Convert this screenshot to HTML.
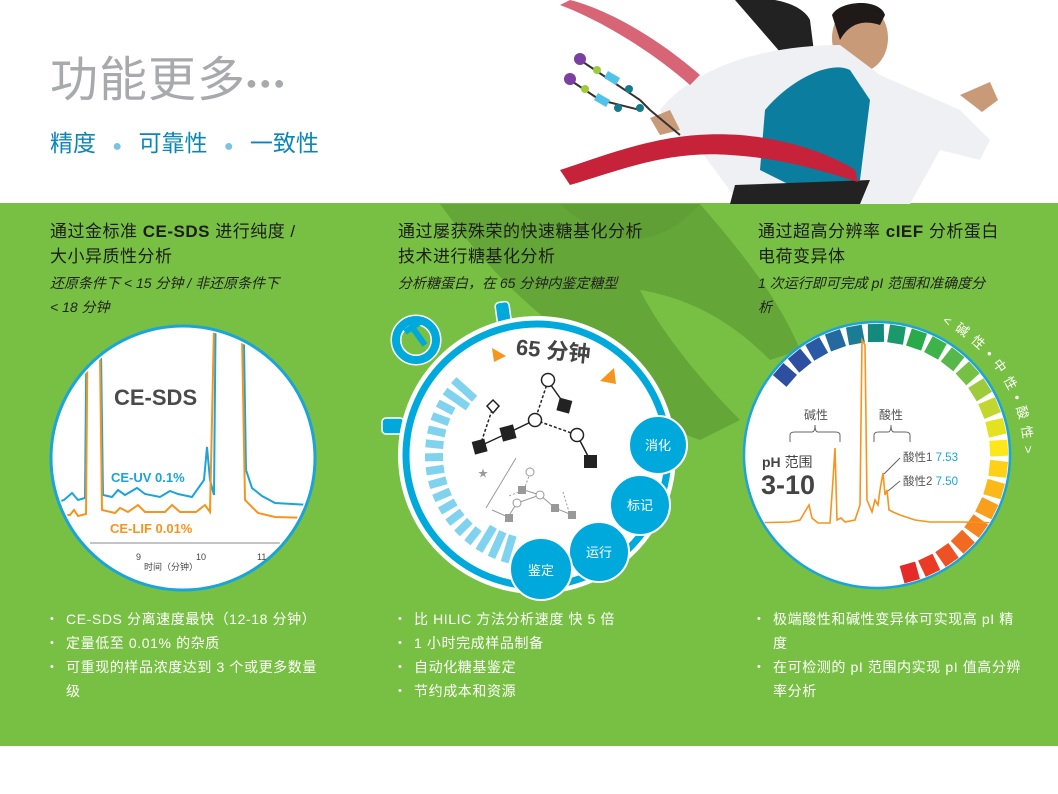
<!DOCTYPE html>
<html><head><meta charset="utf-8">
<style>
*{margin:0;padding:0;box-sizing:border-box}
body{width:1058px;height:794px;background:#fff;position:relative;overflow:hidden;font-family:"Liberation Sans","Noto Sans CJK SC",sans-serif}
.abs{position:absolute;white-space:nowrap}
.green{position:absolute;left:0;top:203px;width:1058px;height:543px;background:#78c043}
h2{position:absolute;font-size:17px;font-weight:normal;color:#1d1d1b;line-height:25px;letter-spacing:0.5px}
.sub{position:absolute;font-size:14px;font-style:italic;color:#222;line-height:24px}
ul{position:absolute;list-style:none;color:#fff;font-size:14px;line-height:24px;letter-spacing:0.6px}
ul li{position:relative;padding-left:16px}
ul li:before{content:"•";position:absolute;left:0;font-size:11px}
</style></head><body>
<div class="green"></div>

<svg class="abs" style="left:0;top:0" width="1058" height="794">
 <path d="M440,204 C480,260 520,300 560,330 C600,360 640,420 700,440 L740,420 C700,380 660,330 640,290 C700,300 740,330 770,360 L800,350 C780,300 740,250 700,204 Z" fill="#5f9e35" opacity="0.75"/>
 <path d="M560,204 C600,240 650,260 700,204 Z" fill="#5f9e35" opacity="0.8"/>
 <path d="M735,0 C760,-5 800,0 810,20 L815,60 L800,75 Z" fill="#222"/>
 <ellipse cx="860" cy="38" rx="28" ry="34" fill="#c99a78"/>
 <path d="M832,15 C840,0 880,-2 885,15 L880,25 C865,20 850,22 840,40 Z" fill="#1f1a18"/>
 <path d="M660,110 C700,60 780,45 840,45 L880,75 L960,110 L990,140 L980,160 L940,150 L910,204 L740,204 L700,150 L670,130 Z" fill="#eef0f3"/>
 <path d="M765,110 C790,80 830,60 850,70 L870,100 L860,180 L800,190 L760,170 Z" fill="#0b7ea0"/>
 <path d="M735,185 L870,180 L860,204 L730,204 Z" fill="#222"/>
 <path d="M960,95 L990,82 L998,100 L982,112 Z" fill="#c99a78"/>
 <path d="M650,118 L670,110 L680,130 L660,135 Z" fill="#c99a78"/>
 <path d="M570,0 C610,10 660,40 700,75 L690,85 C650,50 600,20 560,5 Z" fill="#c6233a" opacity="0.7"/>
 <path d="M560,170 C620,150 670,130 740,135 C800,140 840,160 855,170 L858,182 C820,170 780,158 730,155 C670,150 620,170 570,185 Z" fill="#c6233a"/>
 <g stroke="#333" stroke-width="2">
  <line x1="580" y1="60" x2="610" y2="80"/><line x1="570" y1="80" x2="600" y2="100"/>
  <line x1="610" y1="80" x2="640" y2="100"/><line x1="600" y1="100" x2="640" y2="110"/>
  <line x1="640" y1="100" x2="650" y2="110"/><line x1="650" y1="110" x2="680" y2="135"/>
 </g>
 <circle cx="580" cy="59" r="6" fill="#7b3fa0"/><circle cx="570" cy="79" r="6" fill="#7b3fa0"/>
 <circle cx="597" cy="70" r="4" fill="#9ccc3a"/><circle cx="585" cy="89" r="4" fill="#9ccc3a"/>
 <rect x="605" y="74" width="14" height="8" fill="#4fc3e8" transform="rotate(30 612 78)"/>
 <rect x="595" y="96" width="14" height="8" fill="#4fc3e8" transform="rotate(30 602 100)"/>
 <circle cx="629" cy="89" r="4" fill="#167c8c"/><circle cx="618" cy="108" r="4" fill="#167c8c"/><circle cx="640" cy="108" r="4" fill="#167c8c"/>

 <defs>
  <clipPath id="cl"><circle cx="183" cy="458" r="129"/></clipPath>
  <clipPath id="cr"><circle cx="877" cy="455" r="131"/></clipPath>
 </defs>
 <circle cx="183" cy="458" r="132" fill="#fff" stroke="#1ba4d9" stroke-width="3"/>
 <g clip-path="url(#cl)" fill="none" stroke-width="2">
  <polyline stroke="#1ba4d9" points="50,505 64,500 72,493 78,500 85,498 87,280 100,280 103,495 112,497 118,490 125,495 137,488 145,494 160,497 170,491 178,494 192,497 204,480 207,447 210,480 214,495 216,280 243,280 246,470 252,488 262,496 275,503 310,505"/>
  <polyline stroke="#f7941d" points="50,515 70,515 74,510 78,516 86,514 88,280 99,280 102,510 115,513 120,508 128,512 138,505 145,512 165,512 172,505 180,512 196,512 205,505 210,512 215,280 241,280 245,500 258,513 275,517 310,518"/>
  <line x1="90" y1="543" x2="280" y2="543" stroke="#888" stroke-width="1"/>
 </g>
 <text x="114" y="405" font-size="22" font-weight="bold" fill="#4a4a4a">CE-SDS</text>
 <text x="111" y="482" font-size="13" font-weight="bold" fill="#1ba4d9">CE-UV 0.1%</text>
 <text x="110" y="533" font-size="13" font-weight="bold" fill="#f7941d">CE-LIF 0.01%</text>
 <text x="136" y="560" font-size="9" fill="#444">9</text>
 <text x="196" y="560" font-size="9" fill="#444">10</text>
 <text x="257" y="560" font-size="9" fill="#444">11</text>
 <text x="144" y="570" font-size="9" fill="#444">时间（分钟）</text>

 <rect x="496" y="302" width="14" height="22" rx="4" fill="#00a9dc" stroke="#fff" stroke-width="1.5" transform="rotate(-8 503 312)"/>
 <rect x="382" y="418" width="22" height="16" rx="4" fill="#00a9dc" stroke="#fff" stroke-width="1.5"/>
 <circle cx="416" cy="340" r="20" fill="none" stroke="#fff" stroke-width="11"/>
 <circle cx="416" cy="340" r="20" fill="none" stroke="#00a9dc" stroke-width="8"/>
 <path d="M405,332 L420,322 M412,327 L425,345" stroke="#00a9dc" stroke-width="6"/>
 <circle cx="537" cy="455" r="133" fill="#fff" stroke="#fff" stroke-width="12"/>
 <circle cx="537" cy="455" r="131" fill="#fff" stroke="#00a9dc" stroke-width="7"/>
 <g id="ticks"></g>
 <text x="516" y="358" font-size="22" font-weight="bold" fill="#444" transform="rotate(6 550 350)">65 分钟</text>
 <polygon points="492,348 506,356 494,362" fill="#f7941d"/>
 <polygon points="600,381 614,368 616,384" fill="#f7941d"/>
 <g stroke="#222" stroke-width="1.5" fill="none">
  <line x1="548" y1="381" x2="565" y2="405"/><line x1="548" y1="381" x2="535" y2="420" stroke-dasharray="3 2"/>
  <line x1="535" y1="420" x2="508" y2="433"/><line x1="508" y1="433" x2="480" y2="446"/>
  <line x1="535" y1="420" x2="577" y2="435" stroke-dasharray="3 2"/><line x1="577" y1="435" x2="590" y2="460"/>
  <line x1="480" y1="446" x2="493" y2="407" stroke-dasharray="3 2"/>
 </g>
 <g fill="#222">
  <rect x="558" y="399" width="13" height="13" transform="rotate(15 564 405)"/>
  <rect x="501" y="426" width="14" height="14" transform="rotate(-15 508 433)"/>
  <rect x="473" y="440" width="13" height="13" transform="rotate(-15 480 446)"/>
  <rect x="584" y="455" width="13" height="13"/>
 </g>
 <g fill="#fff" stroke="#222" stroke-width="1.5">
  <circle cx="548" cy="380" r="6.5"/><circle cx="535" cy="420" r="6.5"/><circle cx="577" cy="435" r="6.5"/>
  <polygon points="493,400 499,406 493,413 487,406"/>
 </g>
 <g stroke="#999" stroke-width="1" fill="none">
  <line x1="486" y1="508" x2="516" y2="458"/>
  <polyline points="530,473 524,490 509,496" stroke-dasharray="2 2"/>
  <polyline points="524,490 540,495 555,508 572,515" />
  <polyline points="540,495 517,503 508,517 492,510"/>
  <polyline points="563,492 570,515" stroke-dasharray="2 2"/>
 </g>
 <g fill="#999"><rect x="518" y="486" width="8" height="8"/><rect x="551" y="504" width="8" height="8"/><rect x="568" y="511" width="8" height="8"/><rect x="505" y="514" width="8" height="8"/></g>
 <g fill="#fff" stroke="#999"><circle cx="530" cy="472" r="4"/><circle cx="540" cy="495" r="4"/><circle cx="517" cy="503" r="4"/></g>
 <text x="478" y="477" font-size="10" fill="#999">★</text>
 <g font-size="13" fill="#fff" text-anchor="middle">
  <circle cx="658" cy="445" r="29" fill="#00a9dc" stroke="#fff" stroke-width="2"/><text x="658" y="450">消化</text>
  <circle cx="640" cy="505" r="30" fill="#00a9dc" stroke="#fff" stroke-width="2"/><text x="640" y="510">标记</text>
  <circle cx="599" cy="552" r="30" fill="#00a9dc" stroke="#fff" stroke-width="2"/><text x="599" y="557">运行</text>
  <circle cx="541" cy="569" r="31" fill="#00a9dc" stroke="#fff" stroke-width="2"/><text x="541" y="575">鉴定</text>
 </g>

 <circle cx="877" cy="455" r="133" fill="#fff" stroke="#1ba4d9" stroke-width="2.5"/>
 <g id="segs"></g>
 <g clip-path="url(#cr)">
  <polyline fill="none" stroke="#f7941d" stroke-width="1.6" points="745,523 790,522 800,520 806,510 809,505 812,518 818,523 830,523 833,480 835,448 837,520 841,518 845,522 855,520 860,505 862,340 865,345 867,500 872,512 875,500 878,505 880,490 883,473 885,495 887,490 889,510 893,512 900,515 915,520 930,522 960,522 1010,523"/>
 </g>
 <g fill="none" stroke="#666" stroke-width="1">
  <path d="M790,442 L790,435 Q790,432 795,432 L812,432 Q815,432 815,425 Q815,432 818,432 L835,432 Q840,432 840,435 L840,442"/>
  <path d="M874,442 L874,435 Q874,432 879,432 L888,432 Q891,432 891,425 Q891,432 894,432 L905,432 Q910,432 910,435 L910,442"/>
  <line x1="900" y1="458" x2="884" y2="474"/><line x1="900" y1="481" x2="888" y2="491"/>
 </g>
 <text x="804" y="419" font-size="12" fill="#555">碱性</text>
 <text x="879" y="419" font-size="12" fill="#555">酸性</text>
 <text x="762" y="467" font-size="14" font-weight="bold" fill="#444">pH <tspan font-weight="normal">范围</tspan></text>
 <text x="761" y="494" font-size="27" font-weight="bold" fill="#444">3-10</text>
 <text x="903" y="461" font-size="11.5" fill="#555">酸性1 <tspan fill="#1ba4d9">7.53</tspan></text>
 <text x="903" y="485" font-size="11.5" fill="#555">酸性2 <tspan fill="#1ba4d9">7.50</tspan></text>
 <path id="arcT" d="M877,455 m-147,0 a147,147 0 1,1 294,0 a147,147 0 0,1 -20,74" fill="none"/>
 <text font-size="13" fill="#fff" letter-spacing="1.5"><textPath href="#arcT" startOffset="298">&lt; 碱 性 • 中 性 • 酸 性 &gt;</textPath></text>
</svg>

<div class="abs" style="left:50px;top:40px;font-size:48px;color:#a7a9ac;letter-spacing:1px">功能更多<span style="font-size:18px;letter-spacing:3px;vertical-align:middle">●●●</span></div>
<div class="abs" style="left:50px;top:124px;font-size:23px;color:#0b86b9">精度 <span style="color:#7bc3e0;margin:0 10px;font-size:16px">●</span> 可靠性 <span style="color:#7bc3e0;margin:0 10px;font-size:16px">●</span> 一致性</div>

<h2 style="left:50px;top:219px">通过金标准 <b>CE-SDS</b> 进行纯度 /<br>大小异质性分析</h2>
<div class="sub" style="left:50px;top:271px">还原条件下 &lt; 15 分钟 / 非还原条件下<br>&lt; 18 分钟</div>
<h2 style="left:398px;top:219px">通过屡获殊荣的快速糖基化分析<br>技术进行糖基化分析</h2>
<div class="sub" style="left:398px;top:271px">分析糖蛋白，在 65 分钟内鉴定糖型</div>
<h2 style="left:758px;top:219px">通过超高分辨率 <b>cIEF</b> 分析蛋白<br>电荷变异体</h2>
<div class="sub" style="left:758px;top:271px">1 次运行即可完成 pI 范围和准确度分<br>析</div>

<ul style="left:50px;top:607px;width:272px"><li>CE-SDS 分离速度最快（12-18 分钟）</li><li>定量低至 0.01% 的杂质</li><li>可重现的样品浓度达到 3 个或更多数量级</li></ul>
<ul style="left:398px;top:607px;width:290px"><li>比 HILIC 方法分析速度 快 5 倍</li><li>1 小时完成样品制备</li><li>自动化糖基鉴定</li><li>节约成本和资源</li></ul>
<ul style="left:757px;top:607px;width:268px;white-space:normal"><li>极端酸性和碱性变异体可实现高 pI 精度</li><li>在可检测的 pI 范围内实现 pI 值高分辨率分析</li></ul>

<script>
var NS="http://www.w3.org/2000/svg";
var t=document.getElementById("ticks");
var n=17;
for(var i=0;i<n;i++){var ang=(138+i*7.2)*Math.PI/180;var cx=537,cy=455;
var long=(i<2||i>13);var r1=long?84:94,r2=112;
var l=document.createElementNS(NS,"line");
l.setAttribute("x1",cx+Math.cos(ang)*r1);l.setAttribute("y1",cy-Math.sin(ang)*r1);
l.setAttribute("x2",cx+Math.cos(ang)*r2);l.setAttribute("y2",cy-Math.sin(ang)*r2);
l.setAttribute("stroke","#7fd3ef");l.setAttribute("stroke-width","8");t.appendChild(l);}
var cols=["#2e4fa0","#2e4fa0","#2a5aa6","#24699f","#1a7d95","#148a7f","#1a9a6a","#2aab4a","#3db34a","#55b848","#76c043","#9dcb3b","#c2d62f","#e4e21f","#fde619","#fcd116","#fbb917","#f8a01b","#f5851f","#f26a22","#ee5224","#ea3b25","#e52a27"];
var s=document.getElementById("segs");
for(var j=0;j<cols.length;j++){var ang=(139-j*9.7)*Math.PI/180;var cx=877,cy=455;
var l=document.createElementNS(NS,"line");
l.setAttribute("x1",cx+Math.cos(ang)*113);l.setAttribute("y1",cy-Math.sin(ang)*113);
l.setAttribute("x2",cx+Math.cos(ang)*131);l.setAttribute("y2",cy-Math.sin(ang)*131);
l.setAttribute("stroke",cols[j]);l.setAttribute("stroke-width","16");s.appendChild(l);}
</script>
</body></html>
